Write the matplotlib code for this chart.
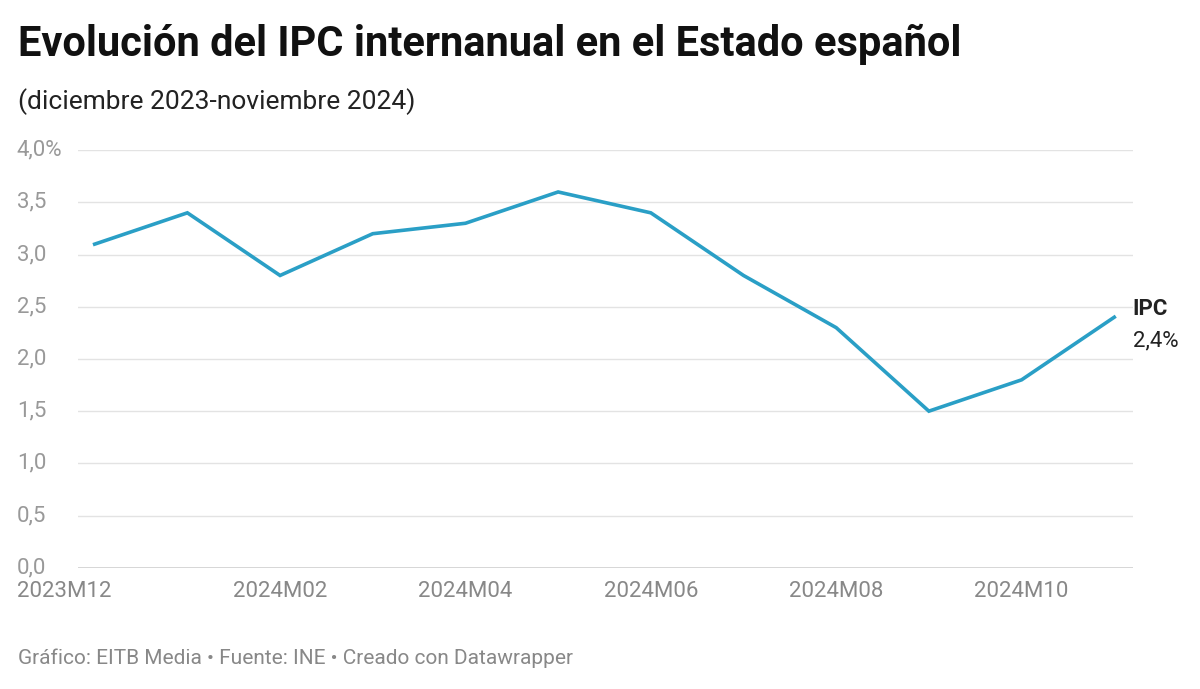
import matplotlib.pyplot as plt

months = ["2023M12", "2024M01", "2024M02", "2024M03", "2024M04", "2024M05",
          "2024M06", "2024M07", "2024M08", "2024M09", "2024M10", "2024M11"]
ipc = [3.1, 3.4, 2.8, 3.2, 3.3, 3.6, 3.4, 2.8, 2.3, 1.5, 1.8, 2.4]
yticks = [0, 0.5, 1.0, 1.5, 2.0, 2.5, 3.0, 3.5, 4.0]
ylabels = ["0,0", "0,5", "1,0", "1,5", "2,0", "2,5", "3,0", "3,5", "4,0%"]

plt.rcParams['font.family'] = ['Roboto', 'DejaVu Sans']
fig = plt.figure(figsize=(12, 6.89), dpi=100)
ax = fig.add_axes([0.065, 0.176, 0.879, 0.606])
x = list(range(len(months)))
ax.plot(x, ipc, color='#2a9fc6', lw=2.6, solid_joinstyle='miter')
ax.set_xlim(-0.18, 11.2)
ax.set_ylim(0, 4)
for s in ax.spines.values():
    s.set_visible(False)
for v in yticks:
    ax.axhline(v, color='#333333' if v == 0 else '#e3e3e3', lw=1, zorder=0)
ax.set_yticks([])
ax.set_xticks([])
for i in [0, 2, 4, 6, 8, 10]:
    ax.text(-0.84 if i == 0 else i, -0.13, months[i], fontsize=16, color='#888888',
            ha='left' if i == 0 else 'center', va='top', clip_on=False)
for v, lab in zip(yticks, ylabels):
    ax.text(-0.84, v, lab, fontsize=16, color='#999999', va='center', ha='left',
            clip_on=False)
ax.text(11.2, 2.48, "IPC", fontsize=16, fontweight='bold', color='#222222', va='center', clip_on=False)
ax.text(11.2, 2.17, "2,4%", fontsize=16, color='#222222', va='center', clip_on=False)

fig.text(0.015, 0.935, "Evolución del IPC internanual en el Estado español",
         fontsize=30, fontweight='bold', color='#111111', va='center')
fig.text(0.015, 0.853, "(diciembre 2023-noviembre 2024)", fontsize=19, color='#222222', va='center')
fig.text(0.015, 0.045, "Gráfico: EITB Media • Fuente: INE • Creado con Datawrapper",
         fontsize=15, color='#888888', va='center')
fig.savefig("out.png", dpi=100, facecolor='white')
